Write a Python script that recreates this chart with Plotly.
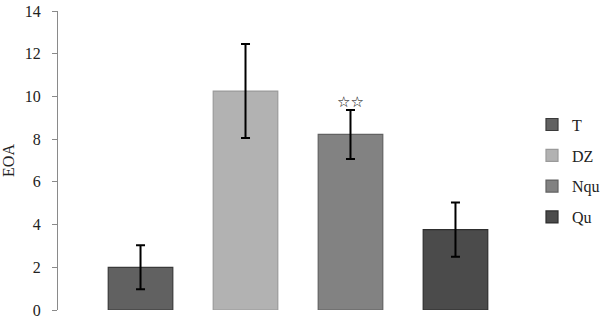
import plotly.graph_objects as go

categories = ["T", "DZ", "Nqu", "Qu"]
values = [2.0, 10.25, 8.22, 3.76]
errors = [1.03, 2.2, 1.15, 1.27]
fill_colors = ["#616161", "#b2b2b2", "#828282", "#4b4b4b"]
line_colors = ["#3a3a3a", "#9a9a9a", "#626262", "#2e2e2e"]
y_ticks = [0, 2, 4, 6, 8, 10, 12, 14]
star_label = "☆☆"
star_category = "Nqu"

SERIF = "Liberation Serif, Times New Roman, serif"

fig = go.Figure()
for i, cat in enumerate(categories):
    fig.add_trace(go.Bar(
        x=[cat], y=[values[i]], name=cat, width=0.615,
        marker=dict(color=fill_colors[i], line=dict(color=line_colors[i], width=1.2)),
        error_y=dict(type="data", array=[errors[i]], color="black", thickness=2, width=4.5),
        legendgroup=cat,
    ))

si = categories.index(star_category)
fig.add_annotation(x=star_category, y=values[si] + errors[si], text=star_label,
                   showarrow=False, yanchor="bottom", yshift=-3,
                   font=dict(family="DejaVu Sans", size=15, color="black"))

fig.update_layout(
    width=602, height=321,
    margin=dict(l=58, r=64, t=11, b=11, autoexpand=False),
    paper_bgcolor="white", plot_bgcolor="white",
    barmode="overlay",
    font=dict(family=SERIF, size=16, color="#222222"),
    showlegend=True,
    legend=dict(x=0.9875, y=0.677, xanchor="left", yanchor="top",
                font=dict(family=SERIF, size=16, color="#222222"),
                tracegroupgap=7, itemwidth=30, bgcolor="rgba(0,0,0,0)"),
    xaxis=dict(type="category", range=[-0.786, 3.786], showticklabels=False, automargin=False,
               showline=False, showgrid=False, zeroline=False, ticks=""),
    yaxis=dict(range=[0, 14], tickvals=y_ticks, showline=True, linecolor="#8a8a8a",
               linewidth=1, ticks="outside", ticklen=5, tickcolor="#8a8a8a", automargin=False,
               ticklabelstandoff=8, tickfont=dict(family=SERIF, size=16, color="#222222"),
               showgrid=False, zeroline=False,
               title=dict(text="EOA", standoff=8, font=dict(family=SERIF, size=16))),
)

fig.write_html("out.html", config={"displayModeBar": False},
               post_script="document.body.style.margin='0';")
